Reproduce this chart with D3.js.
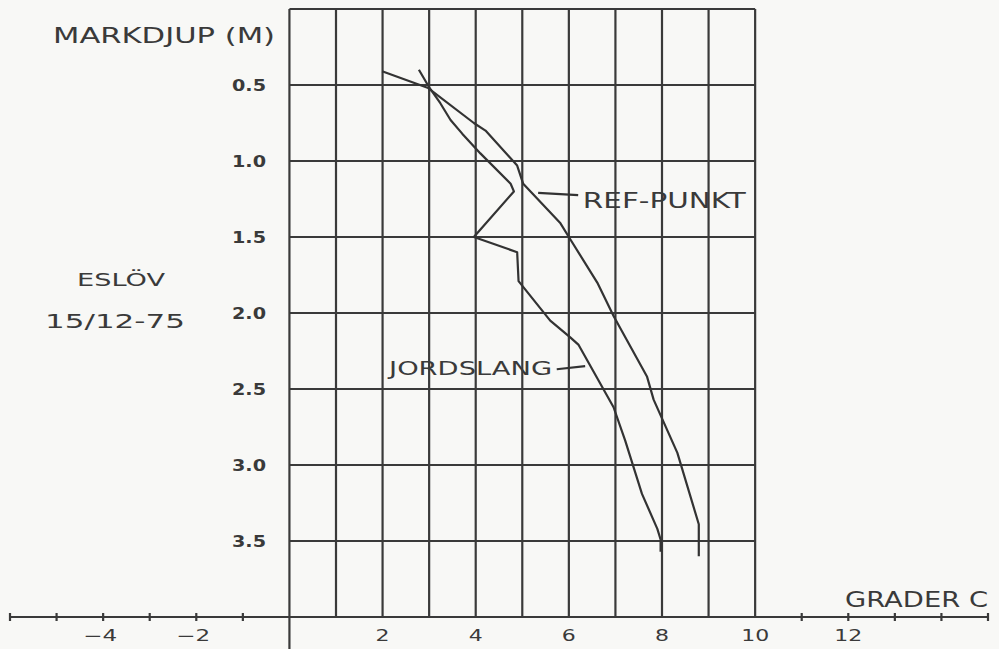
<!doctype html>
<html>

<head>
    <style>
        body { margin: 0; background: #f8f8f6; }
        .grid { stroke: #3a3a3a; stroke-width: 2.2; fill: none; }
        .curve { stroke: #333; stroke-width: 2.2; fill: none; stroke-linejoin: round; }
        text { font-family: "DejaVu Sans", sans-serif; fill: #3a3a3a; }
    </style>
    <script src="https://d3js.org/d3.v7.min.js"></script>
</head>

<body>
    <svg width="999" height="649"></svg>
    <script>
        // temperature (grader C) against depth (m)
        var refTemp = [1.99, 2.98, 3.96, 4.21, 4.89, 5.02, 5.82, 6.0, 6.61, 6.96, 7.68, 7.82, 8.33, 8.79, 8.79]
        var refDepth = [0.41, 0.52, 0.75, 0.80, 1.03, 1.15, 1.41, 1.50, 1.80, 2.02, 2.42, 2.57, 2.92, 3.39, 3.60]

        var jordTemp = [2.78, 2.99, 3.24, 3.46, 3.71, 4.10, 4.75, 4.82, 3.96, 4.89, 4.92, 5.60, 6.03, 6.21, 6.96, 7.21, 7.57, 7.90, 7.97, 7.97]
        var jordDepth = [0.40, 0.51, 0.62, 0.73, 0.82, 0.95, 1.15, 1.20, 1.50, 1.60, 1.79, 2.05, 2.16, 2.21, 2.62, 2.84, 3.19, 3.42, 3.49, 3.57]

        var xTickLabels = [-4, -2, 2, 4, 6, 8, 10, 12]
        var depthTickLabels = [0.5, 1.0, 1.5, 2.0, 2.5, 3.0, 3.5]

        var svg = d3.select("svg")

        var x = d3.scaleLinear().domain([-6, 15]).range([10, 988]),
            y = d3.scaleLinear().domain([0, 4]).range([9, 617]);

        var g = svg.append("g");

        // vertical grid lines 0..10
        g.selectAll(".vgrid")
            .data(d3.range(0, 11))
            .enter().append("line")
            .attr("class", "grid")
            .attr("x1", function (d) { return x(d); })
            .attr("x2", function (d) { return x(d); })
            .attr("y1", y(0))
            .attr("y2", function (d) { return d === 0 ? 649 : y(4); });

        // horizontal grid lines
        g.selectAll(".hgrid")
            .data(d3.range(0, 4, 0.5))
            .enter().append("line")
            .attr("class", "grid")
            .attr("x1", x(0))
            .attr("x2", x(10))
            .attr("y1", function (d) { return y(d); })
            .attr("y2", function (d) { return y(d); });

        // temperature axis along the bottom
        g.append("line")
            .attr("class", "grid")
            .attr("x1", x(-6)).attr("x2", x(15))
            .attr("y1", y(4)).attr("y2", y(4));

        g.selectAll(".tick")
            .data(d3.range(-6, 16).filter(function (d) { return d < 0 || d > 10; }))
            .enter().append("line")
            .attr("class", "grid")
            .attr("x1", function (d) { return x(d); })
            .attr("x2", function (d) { return x(d); })
            .attr("y1", y(4) - 4)
            .attr("y2", y(4) + 4);

        g.selectAll(".xlab")
            .data(xTickLabels)
            .enter().append("text")
            .attr("x", function (d) { return x(d) - (d < 0 ? 3 : 0); })
            .attr("y", 641)
            .attr("text-anchor", "middle")
            .style("font-size", "15px")
            .attr("lengthAdjust", "spacingAndGlyphs")
            .attr("textLength", function (d) { return (d < 0 ? 20 : 0) + String(Math.abs(d)).length * 14; })
            .text(function (d) { return d < 0 ? "\u2212" + (-d) : d; });

        g.selectAll(".ylab")
            .data(depthTickLabels)
            .enter().append("text")
            .attr("x", 266)
            .attr("y", function (d) { return y(d) + 6; })
            .attr("text-anchor", "end")
            .style("font-size", "15px")
            .style("font-weight", "bold")
            .attr("lengthAdjust", "spacingAndGlyphs")
            .attr("textLength", 34)
            .text(function (d) { return d3.format(".1f")(d); });

        var line = d3.line()
            .x(function (d) { return x(d[0]); })
            .y(function (d) { return y(d[1]); });

        g.append("path")
            .attr("class", "curve")
            .attr("d", line(d3.zip(refTemp, refDepth)));

        g.append("path")
            .attr("class", "curve")
            .attr("d", line(d3.zip(jordTemp, jordDepth)));

        // labels with pointer lines
        g.append("line").attr("class", "curve")
            .attr("x1", x(5.34)).attr("y1", y(1.21))
            .attr("x2", x(6.2)).attr("y2", y(1.225));
        g.append("text")
            .attr("x", x(6.3)).attr("y", y(1.31))
            .attr("lengthAdjust", "spacingAndGlyphs")
            .attr("textLength", 163)
            .style("font-size", "21px")
            .text("REF-PUNKT");

        g.append("line").attr("class", "curve")
            .attr("x1", x(5.74)).attr("y1", y(2.37))
            .attr("x2", x(6.35)).attr("y2", y(2.35));
        g.append("text")
            .attr("x", x(5.64)).attr("y", y(2.41))
            .attr("text-anchor", "end")
            .attr("lengthAdjust", "spacingAndGlyphs")
            .attr("textLength", 163)
            .style("font-size", "20px")
            .text("JORDSLANG");

        // titles
        svg.append("text")
            .attr("x", 53).attr("y", 43)
            .attr("lengthAdjust", "spacingAndGlyphs")
            .attr("textLength", 222)
            .style("font-size", "21px")
            .text("MARKDJUP (M)");

        svg.append("text")
            .attr("x", 845).attr("y", 607)
            .attr("lengthAdjust", "spacingAndGlyphs")
            .attr("textLength", 143)
            .style("font-size", "21px")
            .text("GRADER C");

        svg.append("text")
            .attr("x", 77).attr("y", 286)
            .attr("lengthAdjust", "spacingAndGlyphs")
            .attr("textLength", 88)
            .style("font-size", "18px")
            .text("ESLÖV");

        svg.append("text")
            .attr("x", 45).attr("y", 328)
            .attr("lengthAdjust", "spacingAndGlyphs")
            .attr("textLength", 140)
            .style("font-size", "20px")
            .text("15/12-75");
    </script>
</body>

</html>
